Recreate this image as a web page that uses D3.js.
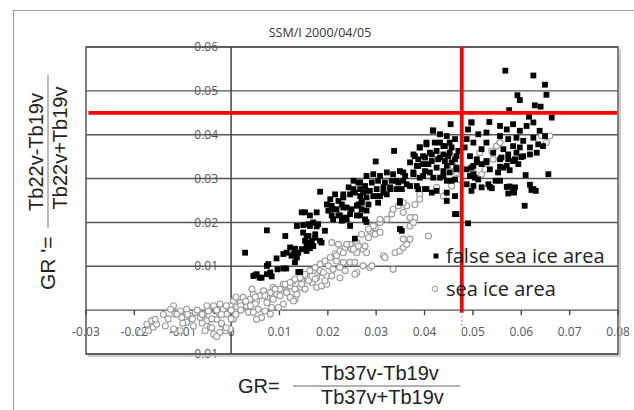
<!DOCTYPE html>
<html><head><meta charset="utf-8">
<script src="https://cdn.jsdelivr.net/npm/d3@7"></script>
<style>body{margin:0;background:#fff}svg{display:block}</style>
</head><body>
<svg id="c" width="634" height="410"></svg>
<script>
const titleText = "SSM/I 2000/04/05";
const xTicks = [-0.03,-0.02,-0.01,0,0.01,0.02,0.03,0.04,0.05,0.06,0.07,0.08];
const xTickLabels = ["-0.03","-0.02","-0.01","0","0.01","0.02","0.03","0.04","0.05","0.06","0.07","0.08"];
const yTicks = [-0.01,0,0.01,0.02,0.03,0.04,0.05,0.06];
const yTickLabels = ["-0.01","0","0.01","0.02","0.03","0.04","0.05","0.06"];
const legendLabels = ["false sea ice area","sea ice area"];
const thresholdGR = 0.0477;   // vertical red line
const thresholdGRp = 0.045;   // horizontal red line

// [GR, GR'] false sea ice area (black squares)
const falseSeaIce = [
[0.0567,0.0546],[0.0625,0.0535],[0.0649,0.0514],[0.0652,0.0491],[0.0592,0.0490],[0.0597,0.0479],[0.0628,0.0467],[0.0640,0.0464],[0.0575,0.0456],[0.0663,0.0439],[0.0616,0.0441],[0.0454,0.0424],[0.0497,0.0428],[0.0534,0.0429],[0.0417,0.0410],[0.0337,0.0363],[0.0299,0.0339],[0.0184,0.0270],
[0.0656,0.0310],[0.0609,0.0308],[0.0570,0.0281],[0.0583,0.0272],[0.0625,0.0276],[0.0607,0.0238],[0.0576,0.0282],[0.0587,0.0280],[0.0573,0.0266],[0.0585,0.0268],[0.0618,0.0286],[0.0621,0.0274],[0.0630,0.0272],[0.0535,0.0281],[0.0539,0.0278],[0.0556,0.0295],[0.0497,0.0272],[0.0490,0.0198],[0.0466,0.0219],[0.0446,0.0249],[0.0353,0.0181],[0.0256,0.0163],
[0.0508,0.0337],[0.0518,0.0333],[0.0528,0.0340],[0.0559,0.0348],[0.0573,0.0344],[0.0587,0.0344],[0.0600,0.0349],[0.0556,0.0327],[0.0563,0.0325],[0.0576,0.0319],[0.0501,0.0310],[0.0504,0.0302],[0.0497,0.0325],
[0.0497,0.0428],[0.0490,0.0412],[0.0511,0.0401],[0.0528,0.0405],[0.0556,0.0420],[0.0570,0.0412],[0.0583,0.0424],[0.0597,0.0409],[0.0611,0.0420],[0.0625,0.0428],[0.0638,0.0409],[0.0649,0.0397],[0.0556,0.0397],[0.0573,0.0390],[0.0590,0.0393],[0.0604,0.0386],[0.0625,0.0393],[0.0635,0.0378],[0.0645,0.0374],[0.0583,0.0374],[0.0597,0.0371],[0.0618,0.0371],[0.0563,0.0367],[0.0573,0.0355],[0.0590,0.0359],[0.0604,0.0351],[0.0618,0.0355],[0.0632,0.0359],[0.0542,0.0359],[0.0556,0.0344],[0.0583,0.0340],[0.0570,0.0329],[0.0594,0.0333],[0.0528,0.0382],[0.0518,0.0367],[0.0501,0.0382],[0.0487,0.0390],[0.0483,0.0371],[0.0494,0.0351],[0.0508,0.0344],[0.0528,0.0337],[0.0535,0.0321],[0.0552,0.0314],[0.0501,0.0329],[0.0487,0.0321],[0.0494,0.0306],[0.0511,0.0298],[0.0547,0.0295],[0.0532,0.0287],[0.0501,0.0283],[0.0487,0.0287],[0.0518,0.0280],
[0.0418,0.0409],[0.0432,0.0401],[0.0446,0.0397],[0.0463,0.0390],[0.0404,0.0382],[0.0421,0.0382],[0.0439,0.0374],[0.0456,0.0371],[0.0470,0.0363],[0.0390,0.0371],[0.0380,0.0351],[0.0397,0.0351],[0.0415,0.0355],[0.0432,0.0348],[0.0449,0.0351],[0.0463,0.0344],[0.0370,0.0337],[0.0387,0.0329],[0.0408,0.0333],[0.0425,0.0325],[0.0446,0.0329],[0.0466,0.0321],[0.0356,0.0314],[0.0377,0.0310],[0.0397,0.0306],[0.0418,0.0302],[0.0439,0.0306],[0.0456,0.0295],[0.0342,0.0295],[0.0363,0.0287],[0.0384,0.0283],[0.0404,0.0276],[0.0425,0.0272],[0.0446,0.0268],[0.0463,0.0260],[0.0329,0.0280],[0.0315,0.0268],[0.0301,0.0260],[0.0280,0.0272],[0.0267,0.0260],[0.0253,0.0276],[0.0232,0.0264],
[0.0390,0.0371],[0.0404,0.0378],[0.0432,0.0382],[0.0442,0.0374],[0.0452,0.0382],[0.0411,0.0359],[0.0425,0.0363],[0.0439,0.0355],[0.0452,0.0359],[0.0466,0.0351],[0.0377,0.0355],[0.0387,0.0344],[0.0401,0.0348],[0.0415,0.0340],[0.0428,0.0344],[0.0442,0.0340],[0.0456,0.0337],[0.0466,0.0325],[0.0384,0.0329],[0.0397,0.0333],[0.0439,0.0317],[0.0452,0.0314],[0.0411,0.0314],[0.0401,0.0317],[0.0432,0.0302],[0.0446,0.0295],[0.0463,0.0298],[0.0390,0.0302],[0.0377,0.0314],
[0.0267,0.0291],[0.0280,0.0306],[0.0294,0.0310],[0.0308,0.0306],[0.0322,0.0314],[0.0335,0.0310],[0.0349,0.0317],[0.0360,0.0306],[0.0277,0.0283],[0.0291,0.0291],[0.0304,0.0295],[0.0318,0.0291],[0.0332,0.0295],[0.0346,0.0291],[0.0356,0.0295],[0.0273,0.0268],[0.0287,0.0272],[0.0301,0.0276],[0.0315,0.0280],[0.0329,0.0276],[0.0342,0.0276],[0.0370,0.0283],[0.0353,0.0276],[0.0270,0.0249],[0.0280,0.0257],[0.0294,0.0260],[0.0308,0.0260],[0.0322,0.0264],[0.0387,0.0276],[0.0401,0.0276],[0.0415,0.0268],[0.0349,0.0249],[0.0270,0.0230],[0.0280,0.0227],[0.0463,0.0219],[0.0349,0.0185],[0.0277,0.0207],
[0.0205,0.0253],[0.0215,0.0264],[0.0222,0.0249],[0.0208,0.0238],[0.0218,0.0230],[0.0229,0.0241],[0.0232,0.0257],[0.0243,0.0280],[0.0253,0.0295],[0.0263,0.0291],[0.0246,0.0264],[0.0256,0.0268],[0.0267,0.0276],[0.0239,0.0234],[0.0249,0.0230],[0.0260,0.0238],[0.0270,0.0245],[0.0208,0.0216],[0.0222,0.0216],[0.0236,0.0211],[0.0246,0.0219],[0.0260,0.0216],[0.0201,0.0227],[0.0211,0.0207],[0.0229,0.0204],[0.0246,0.0192],
[0.0163,0.0216],[0.0177,0.0223],[0.0180,0.0196],[0.0163,0.0192],[0.0160,0.0169],[0.0174,0.0165],[0.0184,0.0158],[0.0156,0.0146],[0.0198,0.0241],[0.0211,0.0230],[0.0232,0.0234],[0.0225,0.0216],[0.0239,0.0207],[0.0267,0.0216],[0.0280,0.0201],[0.0263,0.0241],[0.0284,0.0241],[0.0304,0.0245],[0.0349,0.0245],
[0.0029,0.0131],[0.0074,0.0182],[0.0050,0.0080],[0.0059,0.0074],[0.0074,0.0082],[0.0084,0.0077],[0.0077,0.0105],[0.0096,0.0093],[0.0114,0.0095],[0.0139,0.0087],[0.0094,0.0118],[0.0112,0.0169],[0.0122,0.0143],[0.0132,0.0140],[0.0129,0.0128],[0.0139,0.0131],[0.0146,0.0139],[0.0156,0.0135],[0.0163,0.0141],[0.0170,0.0146],[0.0136,0.0192],[0.0149,0.0194],[0.0160,0.0196],[0.0170,0.0200],[0.0177,0.0191],[0.0146,0.0223],[0.0153,0.0223],[0.0149,0.0177],[0.0156,0.0169],[0.0174,0.0173],[0.0153,0.0158],[0.0167,0.0158],
[0.0108,0.0128],[0.0115,0.0131],[0.0125,0.0124],[0.0136,0.0120],[0.0132,0.0109],[0.0143,0.0087],[0.0194,0.0181],[0.0187,0.0154],[0.0160,0.0154],[0.0063,0.0074],[0.0046,0.0078],[0.0053,0.0082],[0.0081,0.0086],[0.0108,0.0095],[0.0074,0.0101]
];

// [GR, GR'] sea ice area (open circles)
const seaIce = [
[-0.0174,-0.0032],[-0.0164,-0.0024],[-0.0161,-0.0039],[-0.0171,-0.0047],[-0.0154,-0.0032],[-0.0136,-0.0036],[-0.0119,0.0010],[-0.0116,-0.0009],[-0.0105,-0.0002],[-0.0092,0.0002],[-0.0102,-0.0017],[-0.0085,-0.0013],[-0.0074,-0.0005],[-0.0092,-0.0028],[-0.0119,-0.0043],[-0.0105,-0.0047],[-0.0078,-0.0036],[-0.0064,-0.0017],[-0.0057,-0.0009],[-0.0050,-0.0024],[-0.0043,-0.0039],[-0.0036,-0.0055],[-0.0054,-0.0047],[-0.0047,-0.0002],[-0.0036,0.0010],[-0.0023,0.0014],[-0.0026,-0.0005],[-0.0016,0.0002],[-0.0030,-0.0021],[-0.0019,-0.0032],[-0.0009,-0.0009],[-0.0002,0.0010],[0.0005,0.0021],[0.0012,0.0006],[0.0019,0.0017],[0.0025,0.0029],[0.0032,0.0010],[0.0039,0.0025],[0.0046,0.0036],[0.0053,0.0021],[0.0060,0.0033],[0.0067,0.0044],[0.0074,0.0029],[0.0081,0.0040],[0.0087,0.0052],[0.0094,0.0036],[0.0101,0.0048],[0.0108,0.0059],[0.0115,0.0044],[0.0122,0.0055],[0.0129,0.0067],[0.0132,0.0025],[0.0143,0.0052],[0.0146,0.0067],[0.0156,0.0078],[0.0167,0.0063],[0.0170,0.0090],[0.0177,0.0074],[0.0043,0.0048],[0.0036,-0.0005],[0.0005,-0.0021],[-0.0002,-0.0043],[-0.0012,-0.0047],[0.0008,-0.0005],[-0.0023,-0.0051],
[0.0050,0.0014],[0.0070,0.0033],[0.0091,0.0048],[0.0112,0.0059],[0.0122,0.0063],[0.0132,0.0071],[0.0143,0.0074],[0.0153,0.0082],[0.0163,0.0090],[0.0174,0.0097],[0.0184,0.0105],[0.0194,0.0112],[0.0205,0.0120],[0.0215,0.0128],[0.0225,0.0135],[0.0236,0.0143],[0.0246,0.0150],[0.0260,0.0154],[0.0208,0.0154],[0.0222,0.0150],[0.0239,0.0150],[0.0249,0.0139],[0.0260,0.0131],[0.0270,0.0173],[0.0273,0.0139],[0.0218,0.0112],[0.0232,0.0109],[0.0246,0.0109],[0.0201,0.0101],[0.0211,0.0093],[0.0187,0.0086],[0.0198,0.0078],[0.0174,0.0071],[0.0160,0.0067],[0.0146,0.0059],[0.0132,0.0048],[0.0115,0.0040],[0.0101,0.0033],[0.0087,0.0025],[0.0074,0.0017],[0.0056,0.0002],[0.0046,-0.0005],[0.0070,-0.0002],[0.0084,0.0006],[0.0122,0.0029],[0.0136,0.0036],[0.0129,0.0021],[0.0177,0.0052],[0.0187,0.0055],[0.0198,0.0059],[0.0225,0.0074],[0.0260,0.0086],[0.0184,0.0090],[0.0225,0.0097],[0.0236,0.0090],[0.0256,0.0109],[0.0108,0.0014],[0.0098,0.0006],[0.0081,-0.0009],[0.0063,-0.0017],[0.0053,-0.0021],
[0.0298,0.0173],[0.0284,0.0165],[0.0277,0.0146],[0.0280,0.0131],[0.0273,0.0101],[0.0287,0.0097],[0.0315,0.0124],[0.0335,0.0093],[0.0339,0.0131],[0.0349,0.0135],[0.0356,0.0143],[0.0363,0.0150],[0.0370,0.0162],[0.0408,0.0169],
[0.0380,0.0211],[0.0370,0.0192],[0.0356,0.0162],[0.0318,0.0120],[0.0291,0.0101],[0.0256,0.0082],[0.0208,0.0078],[0.0194,0.0067],[0.0153,0.0048],[0.0380,0.0241],[0.0363,0.0238],[0.0356,0.0223],[0.0332,0.0219],[0.0322,0.0207],[0.0308,0.0200],[0.0298,0.0188],[0.0287,0.0181],[0.0308,0.0177],[0.0263,0.0146],[0.0253,0.0139],[0.0232,0.0131],[0.0218,0.0124],[0.0191,0.0086],
[0.0335,0.0230],[0.0346,0.0238],[0.0356,0.0245],[0.0377,0.0200],[0.0370,0.0211],[0.0308,0.0207],[0.0294,0.0192],[0.0284,0.0185],[0.0390,0.0264],[0.0425,0.0280],
[0.0514,0.0359],[0.0539,0.0363],[0.0549,0.0374],[0.0556,0.0382],[0.0659,0.0397],[0.0652,0.0382],[0.0525,0.0321],[0.0518,0.0310],[0.0501,0.0314],[0.0542,0.0344],[0.0466,0.0314],[0.0459,0.0329],[0.0473,0.0298],[0.0456,0.0283],[0.0439,0.0260],[0.0390,0.0253],[0.0642,0.0397],
[-0.0080,-0.0020],[-0.0070,0.0000],[-0.0060,-0.0030],[-0.0050,0.0010],[-0.0040,-0.0020],[-0.0030,0.0000],[-0.0020,-0.0010],[-0.0010,0.0010],[0.0000,0.0000],[0.0010,-0.0010],[0.0020,0.0010],[0.0030,0.0020],[-0.0060,-0.0010],[-0.0040,-0.0040],[-0.0020,-0.0030],[0.0000,-0.0020],[0.0020,0.0000],[-0.0090,-0.0010],[-0.0100,-0.0030],[-0.0030,-0.0060],[-0.0010,-0.0040],[0.0010,0.0030],[0.0040,0.0010],[0.0050,0.0030],
[-0.0157,-0.0021],[-0.0188,-0.0051],[-0.0112,-0.0009],[-0.0130,-0.0020],[-0.0140,-0.0010],[-0.0125,0.0002]
];

const svg = d3.select("#c");
const x = d3.scaleLinear().domain([-0.03, 0.08]).range([86, 618]);
const y = d3.scaleLinear().domain([-0.01, 0.06]).range([354, 47]);
const TICKF = "'Open Sans', sans-serif";
const AXF = "'Liberation Sans', Arial, sans-serif";

// outer frame
svg.append("rect").attr("x",13.5).attr("y",10.5).attr("width",640).attr("height",420)
  .attr("fill","none").attr("stroke","#9a9a9a").attr("stroke-width",1);

// title
svg.append("text").attr("x",320).attr("y",37).attr("text-anchor","middle")
  .attr("font-family",TICKF).attr("font-size",12.5).attr("fill","#333").text(titleText);

// y tick labels (under gridlines)
svg.append("g").selectAll("text").data(yTicks).join("text")
  .attr("x", x(0) - 13).attr("y", d => y(d)).attr("dy","0.35em")
  .attr("text-anchor","end").attr("font-family",TICKF).attr("font-size",12).attr("fill","#555")
  .text((d,i) => yTickLabels[i]);

// x tick labels
svg.append("g").selectAll("text").data(xTicks).join("text")
  .attr("x", d => x(d)).attr("y", y(0) + 26)
  .attr("text-anchor","middle").attr("font-family",TICKF).attr("font-size",12).attr("fill","#555")
  .text((d,i) => xTickLabels[i]);

// horizontal gridlines
svg.append("g").selectAll("line").data(yTicks).join("line")
  .attr("x1", x(-0.03)).attr("x2", x(0.08)).attr("y1", d => y(d)).attr("y2", d => y(d))
  .attr("stroke","#555").attr("stroke-width",1.4);

// plot border
svg.append("rect").attr("x",x(-0.03)).attr("y",y(0.06)).attr("width",x(0.08)-x(-0.03)).attr("height",y(-0.01)-y(0.06))
  .attr("fill","none").attr("stroke","#555").attr("stroke-width",1.5);
svg.append("line").attr("x1",x(0.08)+2).attr("x2",x(0.08)+2).attr("y1",y(0.06)+2).attr("y2",y(-0.01)+2)
  .attr("stroke","#bbb").attr("stroke-width",1.5);
svg.append("line").attr("x1",x(-0.03)+2).attr("x2",x(0.08)+2).attr("y1",y(-0.01)+2).attr("y2",y(-0.01)+2)
  .attr("stroke","#bbb").attr("stroke-width",1.5);

// y axis line at GR=0
svg.append("line").attr("x1",x(0)).attr("x2",x(0)).attr("y1",y(0.06)).attr("y2",y(-0.01))
  .attr("stroke","#444").attr("stroke-width",1.5);
// x axis ticks at GR'=0
svg.append("g").selectAll("line").data(xTicks).join("line")
  .attr("x1", d => x(d)).attr("x2", d => x(d)).attr("y1", y(0)).attr("y2", y(0) + 5)
  .attr("stroke","#444").attr("stroke-width",1.4);

// sea ice circles
svg.append("g").selectAll("circle").data(seaIce).join("circle")
  .attr("cx", d => x(d[0])).attr("cy", d => y(d[1])).attr("r", 3)
  .attr("fill","#fff").attr("stroke","#999").attr("stroke-width",1.1);

// false sea ice squares
const S = 5.8;
svg.append("g").selectAll("rect").data(falseSeaIce).join("rect")
  .attr("x", d => x(d[0]) - S/2).attr("y", d => y(d[1]) - S/2).attr("width", S).attr("height", S)
  .attr("fill","#000");

// red threshold lines
svg.append("line").attr("x1", x(-0.0295)).attr("x2", x(0.0798)).attr("y1", y(thresholdGRp)).attr("y2", y(thresholdGRp))
  .attr("stroke","#ff0000").attr("stroke-width",3.8);
svg.append("line").attr("x1", x(thresholdGR)).attr("x2", x(thresholdGR)).attr("y1", y(0.06)).attr("y2", y(-0.0006))
  .attr("stroke","#ff0000").attr("stroke-width",3.8);
svg.append("line").attr("x1", x(thresholdGR)).attr("x2", x(thresholdGR)).attr("y1", y(-0.0013)).attr("y2", y(-0.004))
  .attr("stroke","#999").attr("stroke-width",1.2).attr("stroke-dasharray","2,2");

// legend
const leg = svg.append("g");
leg.append("rect").attr("x",436-2.5).attr("y",256-2.5).attr("width",5).attr("height",5).attr("fill","#000");
leg.append("text").attr("x",446).attr("y",263).attr("font-family",TICKF).attr("font-size",20).attr("fill","#222").text(legendLabels[0]);
leg.append("circle").attr("cx",435).attr("cy",289).attr("r",2.8).attr("fill","#fff").attr("stroke","#999");
leg.append("text").attr("x",446).attr("y",296).attr("font-family",TICKF).attr("font-size",20).attr("fill","#222").text(legendLabels[1]);

// x axis title: GR = (Tb37v-Tb19v)/(Tb37v+Tb19v)
svg.append("text").attr("x",238).attr("y",393).attr("font-family",AXF).attr("font-size",20).attr("fill","#222").text("GR=");
svg.append("line").attr("x1",293).attr("x2",460).attr("y1",386).attr("y2",386).attr("stroke","#999").attr("stroke-width",1.3);
svg.append("text").attr("x",321).attr("y",380).attr("font-family",AXF).attr("font-size",20).attr("fill","#222").text("Tb37v-Tb19v");
svg.append("text").attr("x",321).attr("y",404).attr("font-family",AXF).attr("font-size",20).attr("fill","#222").text("Tb37v+Tb19v");

// y axis title: GR' = (Tb22v-Tb19v)/(Tb22v+Tb19v)
svg.append("text").attr("transform","translate(55,290) rotate(-90)").attr("font-family",AXF).attr("font-size",21).attr("fill","#222").text("GR '=");
svg.append("line").attr("x1",48).attr("x2",48).attr("y1",75).attr("y2",228).attr("stroke","#999").attr("stroke-width",1.3);
svg.append("text").attr("transform","translate(43,152) rotate(-90)").attr("text-anchor","middle").attr("font-family",AXF).attr("font-size",20).attr("fill","#222").text("Tb22v-Tb19v");
svg.append("text").attr("transform","translate(67,148) rotate(-90)").attr("text-anchor","middle").attr("font-family",AXF).attr("font-size",20).attr("fill","#222").text("Tb22v+Tb19v");
</script>
</body></html>
